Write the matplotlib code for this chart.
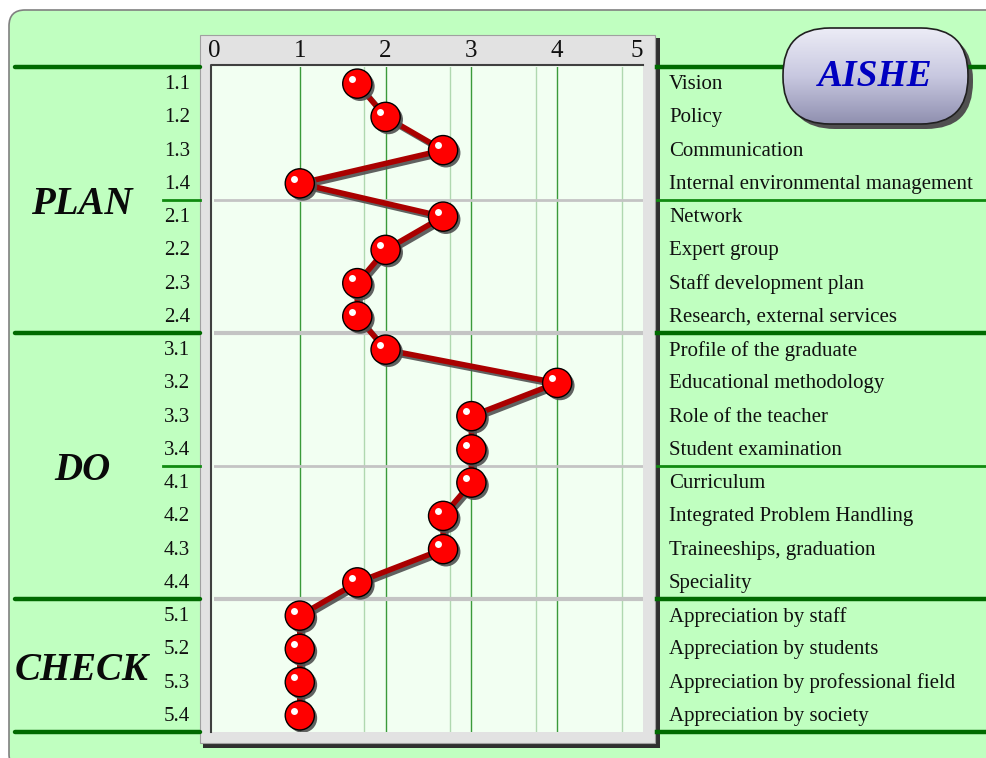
import matplotlib
matplotlib.use("Agg")
import matplotlib.pyplot as plt
import matplotlib.patheffects as pe
from matplotlib.patches import FancyBboxPatch, Rectangle
from matplotlib.transforms import offset_copy
import numpy as np

codes = ["1.1", "1.2", "1.3", "1.4", "2.1", "2.2", "2.3", "2.4",
         "3.1", "3.2", "3.3", "3.4", "4.1", "4.2", "4.3", "4.4",
         "5.1", "5.2", "5.3", "5.4"]
names = ["Vision", "Policy", "Communication", "Internal environmental management",
         "Network", "Expert group", "Staff development plan", "Research, external services",
         "Profile of the graduate", "Educational methodology", "Role of the teacher",
         "Student examination", "Curriculum", "Integrated Problem Handling",
         "Traineeships, graduation", "Speciality", "Appreciation by staff",
         "Appreciation by students", "Appreciation by professional field",
         "Appreciation by society"]
scores = [1.67, 2, 2.67, 1, 2.67, 2, 1.67, 1.67,
          2, 4, 3, 3, 3, 2.67, 2.67, 1.67,
          1, 1, 1, 1]
phases = ["PLAN", "DO", "CHECK"]
phase_rows = [4, 12, 18]
xticks = [0, 1, 2, 3, 4, 5]

W, H = 987, 758
serif = "Liberation Serif"

fig = plt.figure(figsize=(W / 100, H / 100), dpi=100)
fig.patch.set_facecolor("white")

# background layer in pixel coordinates
bg = fig.add_axes([0, 0, 1, 1])
bg.set_xlim(0, W)
bg.set_ylim(H, 0)
bg.axis("off")

bg.add_patch(FancyBboxPatch((9, 10), 1000, 760, boxstyle="round,pad=0,rounding_size=16",
                            fc="#c0ffc0", ec="#808080", lw=1.2))

# plot frame
px0, px1, py0, py1 = 214, 643, 67, 732
bg.add_patch(Rectangle((203, 38), 457, 710, fc="#303030", ec="none"))
bg.add_patch(Rectangle((200, 35), 455, 708, fc="#e2e2e2", ec="#a0a0a0", lw=0.8))
bg.add_patch(Rectangle((px0 - 3, py0 - 3), px1 - px0 + 3, py1 - py0 + 3, fc="#f2fff2",
                       ec="none"))
bg.plot([px0 - 3, px0 - 3, px1], [py1, py0 - 2, py0 - 2], color="#404040", lw=1.5)

# row geometry
row_h = (py1 - py0) / 20.0
def row_y(i):
    return py0 + row_h * (i + 0.5)

# green separator lines
dark_g = "#006a00"
for b in [0, 8, 16, 20]:
    y = py0 + row_h * b
    bg.plot([15, 200], [y, y], color=dark_g, lw=3.2, solid_capstyle="round")
    bg.plot([657, W], [y, y], color=dark_g, lw=3.2)
for b in [4, 12]:
    y = py0 + row_h * b
    bg.plot([163, 200], [y, y], color="#108a10", lw=2)
    bg.plot([657, W], [y, y], color="#108a10", lw=2)

# labels
for i in range(20):
    bg.text(190, row_y(i) + 1, codes[i], ha="right", va="center", fontsize=15,
            family=serif, color="#101010")
    bg.text(669, row_y(i) + 1, names[i], ha="left", va="center", fontsize=15,
            family=serif, color="#101010")
for p, r in zip(phases, phase_rows):
    bg.text(82, py0 + row_h * r + 5, p, ha="center", va="center", fontsize=28,
            family=serif, weight="bold", style="italic", color="#0a0a0a")

for t in xticks:
    x = px0 + (px1 - px0) * t / 5.0
    bg.text(x - (6 if t == 5 else 0), 51, str(t), ha="center", va="center", fontsize=18,
            family=serif, color="#101010")

# AISHE badge
bx, by, bw, bh = 783, 28, 185, 96
bg.add_patch(FancyBboxPatch((bx + 5, by + 5), bw, bh, boxstyle="round,pad=0,rounding_size=47",
                            fc="#505050", ec="none"))
badge = FancyBboxPatch((bx, by), bw, bh, boxstyle="round,pad=0,rounding_size=47",
                       fc="none", ec="#202020", lw=1.2, zorder=3)
bg.add_patch(badge)
grad = np.linspace(0, 1, 100).reshape(-1, 1)
cmap = matplotlib.colors.LinearSegmentedColormap.from_list("b", ["#ececf6", "#c8c8e0", "#9090b0"])
img = bg.imshow(grad, extent=(bx, bx + bw, by + bh, by), cmap=cmap, aspect="auto", zorder=2)
img.set_clip_path(badge)
bg.set_xlim(0, W)
bg.set_ylim(H, 0)
bg.text(bx + bw / 2, by + bh / 2 + 1, "AISHE", ha="center", va="center", fontsize=27,
        family=serif, weight="bold", style="italic", color="#0000c0", zorder=4)

# data axes
ax = fig.add_axes([px0 / W, 1 - py1 / H, (px1 - px0) / W, (py1 - py0) / H])
ax.set_facecolor("none")
ax.set_xlim(0, 5)
ax.set_ylim(19.5, -0.5)
ax.axis("off")

for g in [1, 2, 3, 4]:
    ax.axvline(g, color="#3a9a3a", lw=1, zorder=1)
for g in [1.75, 2.75, 3.75, 4.75]:
    ax.axvline(g, color="#b0d8b0", lw=1, zorder=1)
for b, lw in [(3.5, 2), (7.5, 3), (11.5, 2), (15.5, 3)]:
    ax.axhline(b, color="#c4c4c4", lw=lw, zorder=1)

rows = np.arange(len(scores))
ax.plot(scores, rows, color="#aa0000", lw=4, zorder=3,
        path_effects=[pe.SimpleLineShadow(offset=(2, -2), shadow_color="#505050", alpha=0.9),
                      pe.Normal()])
ax.plot(scores, rows, ls="none", marker="o", ms=21, mfc="#ff0000", mec="black", mew=1,
        zorder=4,
        path_effects=[pe.SimplePatchShadow(offset=(2, -2), shadow_rgbFace="#505050", alpha=0.9),
                      pe.Normal()])
hl = offset_copy(ax.transData, fig=fig, x=-4, y=3.5, units="points")
ax.plot(scores, rows, ls="none", marker="o", ms=5, mfc="white", mec="none", zorder=5,
        transform=hl)

fig.savefig("out.png", dpi=100)
